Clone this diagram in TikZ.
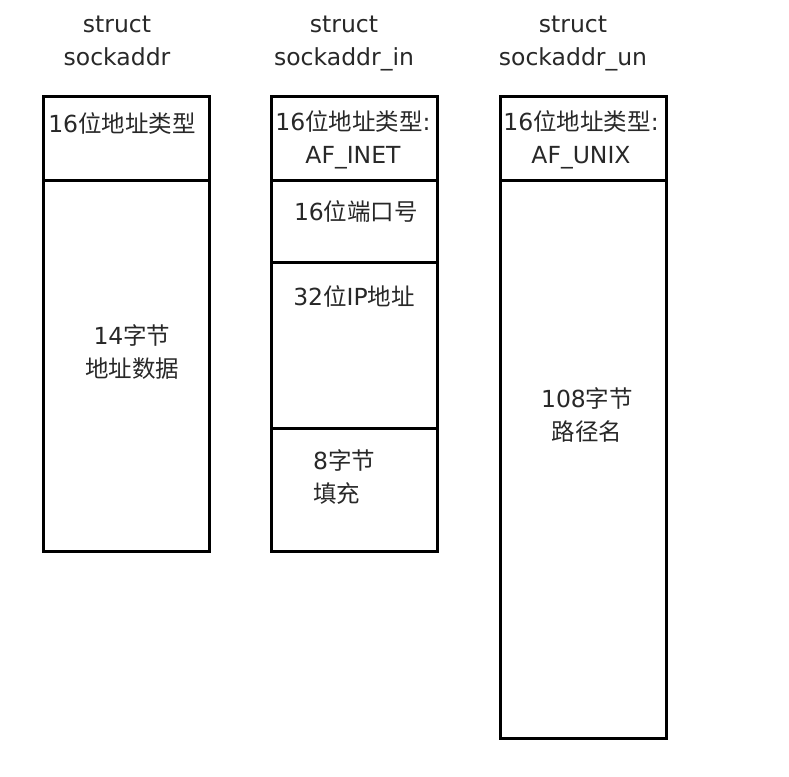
\documentclass[tikz,border=0pt]{standalone}
\usepackage{fontspec}
\setmainfont{DejaVu Sans}
\newfontfamily\cjk{Noto Sans CJK SC}
\newcommand{\zh}[1]{{\cjk #1}}
\definecolor{txt}{RGB}{40,40,40}
\begin{document}
\begin{tikzpicture}[x=1pt,y=-1pt,
  field/.style={draw=black, line width=2.9pt, rectangle, inner sep=0pt, anchor=north west, minimum width=166pt},
  lbl/.style={text=txt, inner sep=0pt, align=center, font=\fontsize{23.5}{33}\selectfont},
  title/.style={lbl, text depth=6pt},
  lbll/.style={lbl, align=left, anchor=west}]
\useasboundingbox (0,0) rectangle (789,776);
% column 1: struct sockaddr
\node[field, minimum height=84pt] (a1) at (42,95) {};
\node[field, minimum height=371pt] (a2) at (42,179) {};
% column 2: struct sockaddr_in
\node[field, minimum height=84pt] (b1) at (270,95) {};
\node[field, minimum height=82pt] (b2) at (270,179) {};
\node[field, minimum height=166pt] (b3) at (270,261) {};
\node[field, minimum height=123pt] (b4) at (270,427) {};
% column 3: struct sockaddr_un
\node[field, minimum height=84pt] (c1) at (499,95) {};
\node[field, minimum height=558pt] (c2) at (499,179) {};
% titles
\node[title] (ta) at (117,44) {struct\\sockaddr};
\node[title] (tb) at (344,44) {struct\\sockaddr\_in};
\node[title] (tc) at (573,44) {struct\\sockaddr\_un};
% texts
\node[lbl] (la1) at (122,123) {16\zh{位地址类型}};
\node[lbl] (lb1) at (353,140) {16\zh{位地址类型}:\\AF\_INET};
\node[lbl] (lc1) at (581,140) {16\zh{位地址类型}:\\AF\_UNIX};
\node[lbl] (la2) at (132,352) {14\zh{字节}\\\zh{地址数据}};
\node[lbl] (lb2) at (356,212) {16\zh{位端口号}};
\node[lbl] (lb3) at (354,296) {32\zh{位}IP\zh{地址}};
\node[lbll] (lb4) at (313,477) {8\zh{字节}\\\zh{填充}};
\node[lbl] (lc2) at (587,415) {108\zh{字节}\\\zh{路径名}};
\end{tikzpicture}
\end{document}
